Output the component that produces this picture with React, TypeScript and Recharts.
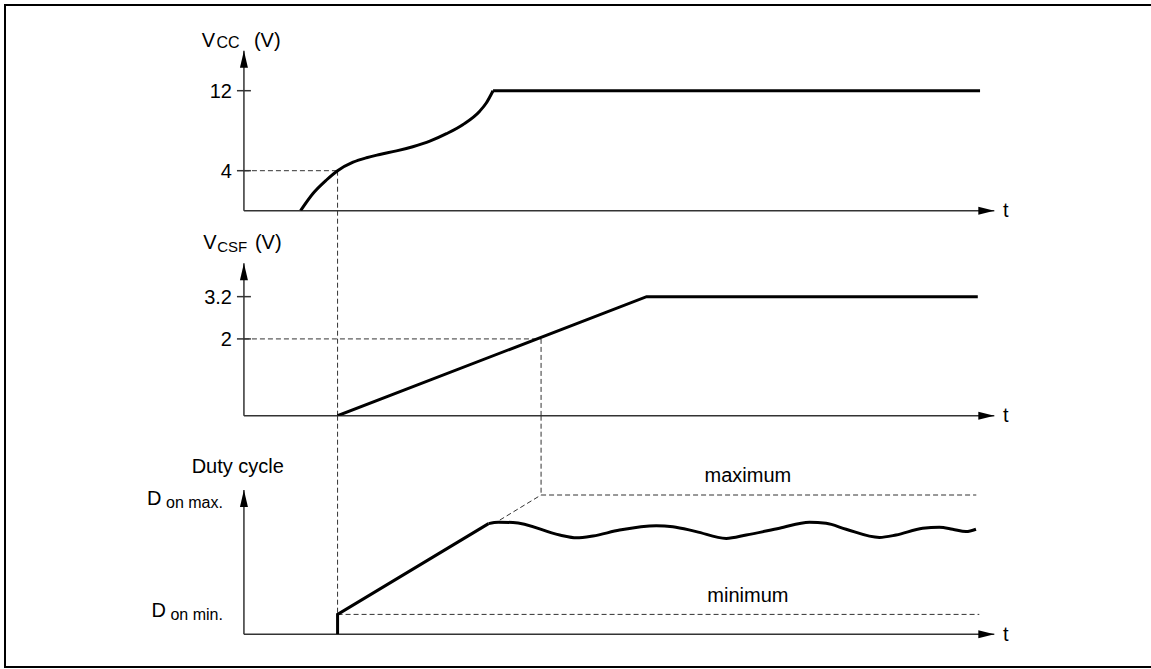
import { LineChart, Line, XAxis, YAxis, ReferenceLine, ReferenceDot, Label } from "recharts";

const W = 1151;
const H = 669;
const LEFT = 183.9;
const RIGHT = 156.7;
const T_RANGE: [number, number] = [-8, 100];

// time markers (t units, 0 = vertical axis, 100 = arrow tip)
const T_ON = 12.48; // Vcc crosses 4 V, soft start begins
const T_2V = 39.6; // Vcsf crosses 2 V

// Vcc (V)
const vccRise = [
  { t: 7.55, v: 0 },
  { t: 9.23, v: 1.74 },
  { t: 11.0, v: 3.07 },
  { t: 12.48, v: 4 },
  { t: 14.55, v: 4.85 },
  { t: 16.34, v: 5.3 },
  { t: 18.1, v: 5.62 },
  { t: 20.33, v: 5.98 },
  { t: 22.5, v: 6.4 },
  { t: 24.77, v: 6.95 },
  { t: 26.99, v: 7.7 },
  { t: 29.16, v: 8.6 },
  { t: 31.42, v: 9.95 },
  { t: 32.32, v: 10.8 },
  { t: 33.2, v: 12 },
];
const vccHold = [
  { t: 33.2, v: 12 },
  { t: 98.1, v: 12 },
];
const vccTicks = [4, 12];

// Vcsf (V)
const vcsfLine = [
  { t: 12.48, v: -0.18 },
  { t: 53.66, v: 3.2 },
  { t: 97.8, v: 3.2 },
];
const vcsfTicks = [2, 3.2];

// duty cycle (%)
const D_MIN = 10;
const D_MAX = 70;
const dutyRamp = [
  { t: 12.48, v: 0 },
  { t: 12.48, v: 10 },
  { t: 32.6, v: 55.6 },
];
const dutyWave = [
  { t: 32.6, v: 55.6 },
  { t: 33.9, v: 56.3 },
  { t: 35.86, v: 56.2 },
  { t: 42.08, v: 49.9 },
  { t: 44.3, v: 48.5 },
  { t: 46.51, v: 49.4 },
  { t: 50.07, v: 52.4 },
  { t: 54.95, v: 54.6 },
  { t: 57.16, v: 54.1 },
  { t: 60.28, v: 51.6 },
  { t: 64.27, v: 48.2 },
  { t: 66.94, v: 49.9 },
  { t: 71.37, v: 53.3 },
  { t: 75.37, v: 56.3 },
  { t: 77.59, v: 55.8 },
  { t: 80.25, v: 52.8 },
  { t: 84.69, v: 48.7 },
  { t: 86.91, v: 49.9 },
  { t: 90.45, v: 53.3 },
  { t: 92.68, v: 53.8 },
  { t: 94.45, v: 52.8 },
  { t: 96.23, v: 51.6 },
  { t: 97.56, v: 52.8 },
];

const AXIS = "#333";
const FONT = 20;
const SUB = 16;
const dash = { stroke: "#333", strokeWidth: 1, strokeDasharray: "5 3", ifOverflow: "visible" as const };

const rightHead = (p: any) => (
  <g>
    <polygon points={`${p.cx},${p.cy} ${p.cx - 16},${p.cy - 4} ${p.cx - 16},${p.cy + 4}`} fill="#000" />
    <text x={p.cx + 8.7} y={p.cy + 6.6} fontSize={FONT} fill="#000">
      t
    </text>
  </g>
);

const upHead = (title: (x: number, y: number) => any) => (p: any) => (
  <g>
    <polygon points={`${p.cx},${p.cy} ${p.cx - 4},${p.cy + 17} ${p.cx + 4},${p.cy + 17}`} fill="#000" />
    {title(p.cx, p.cy)}
  </g>
);

const vccTitle = (x: number, y: number) => (
  <text fontSize={FONT} fill="#000">
    <tspan x={x - 42.3} y={y - 4}>V</tspan>
    <tspan x={x - 27.5} y={y - 2.4} fontSize={SUB}>CC</tspan>
    <tspan x={x + 10} y={y - 4}>(V)</tspan>
  </text>
);

const vcsfTitle = (x: number, y: number) => (
  <text fontSize={FONT} fill="#000">
    <tspan x={x - 40.7} y={y - 14}>V</tspan>
    <tspan x={x - 26.7} y={y - 11.6} fontSize={SUB - 1}>CSF</tspan>
    <tspan x={x + 11} y={y - 14}>(V)</tspan>
  </text>
);

const dutyTitle = (x: number, y: number) => (
  <text x={x - 52.3} y={y - 16.7} fontSize={FONT} fill="#000">
    Duty cycle
  </text>
);

const dLabel = (sub: string, dy: number) => (p: any) => (
  <text x={p.cx - 21} y={p.cy + dy} textAnchor="end" fontSize={FONT} fill="#000">
    D<tspan fontSize={16} dy={3}> {sub}</tspan>
  </text>
);

const centerText = (text: string, dy: number) => (p: any) => (
  <text x={p.cx} y={p.cy + dy} textAnchor="middle" fontSize={FONT} fill="#000">
    {text}
  </text>
);

function axes(base: number, tip: number, title: (x: number, y: number) => any) {
  return [
    <ReferenceLine key="ya" segment={[{ x: 0, y: base }, { x: 0, y: tip }]} stroke={AXIS} strokeWidth={1.5} ifOverflow="visible" />,
    <ReferenceLine key="xa" segment={[{ x: 0, y: base }, { x: 100, y: base }]} stroke={AXIS} strokeWidth={1.5} ifOverflow="visible" />,
    <ReferenceDot key="yh" x={0} y={tip} shape={upHead(title)} ifOverflow="visible" />,
    <ReferenceDot key="xh" x={100} y={base} shape={rightHead} ifOverflow="visible" />,
  ];
}

function ticks(values: number[]) {
  return values.map((v) => (
    <ReferenceLine
      key={`tk${v}`}
      segment={[{ x: -0.93, y: v }, { x: 0.93, y: v }]}
      stroke={AXIS}
      strokeWidth={1.5}
      ifOverflow="visible"
    >
      <Label value={String(v)} position="left" offset={5} fontSize={FONT} fill="#000" />
    </ReferenceLine>
  ));
}

function Panel({ top, base, domain, children }: { top: number; base: number; domain: [number, number]; children: any }) {
  return (
    <div style={{ position: "absolute", left: 0, top: 0 }}>
      <LineChart width={W} height={H} margin={{ top, bottom: H - base, left: LEFT, right: RIGHT }}>
        <XAxis type="number" dataKey="t" domain={T_RANGE} hide allowDataOverflow />
        <YAxis type="number" dataKey="v" domain={domain} hide allowDataOverflow />
        {children}
      </LineChart>
    </div>
  );
}

const lineProps = {
  dataKey: "v",
  stroke: "#000",
  strokeWidth: 3,
  dot: false,
  activeDot: false,
  isAnimationActive: false,
};

export default function App() {
  return (
    <div
      style={{
        position: "absolute",
        left: 0,
        top: 0,
        width: W,
        height: H,
        overflow: "hidden",
        background: "#fff",
        fontFamily: '"Liberation Sans", Arial, Helvetica, sans-serif',
      }}
    >
      <div
        style={{
          position: "absolute",
          left: 4,
          top: 4,
          width: 1200,
          height: 664,
          boxSizing: "border-box",
          border: "2px solid #000",
        }}
      />

      <Panel top={50.7} base={210.7} domain={[0, 16]}>
        {axes(0, 16, vccTitle)}
        {ticks(vccTicks)}
        <ReferenceLine segment={[{ x: 0, y: 4 }, { x: T_ON, y: 4 }]} {...dash} />
        <ReferenceLine segment={[{ x: T_ON, y: 4 }, { x: T_ON, y: 0 }]} {...dash} />
        <Line {...lineProps} data={vccRise} type="monotone" />
        <Line {...lineProps} data={vccHold} type="linear" />
      </Panel>

      <Panel top={210.7} base={415.7} domain={[-0.18, 5.64]}>
        {axes(-0.18, 4.15, vcsfTitle)}
        {ticks(vcsfTicks)}
        <ReferenceLine segment={[{ x: 0, y: 2 }, { x: T_2V, y: 2 }]} {...dash} />
        <ReferenceLine segment={[{ x: T_ON, y: 5.64 }, { x: T_ON, y: -0.18 }]} {...dash} />
        <ReferenceLine segment={[{ x: T_2V, y: 2 }, { x: T_2V, y: -0.18 }]} {...dash} />
        <Line {...lineProps} data={vcsfLine} type="linear" />
      </Panel>

      <Panel top={415.7} base={634.3} domain={[0, 109.85]}>
        {axes(0, 72.5, dutyTitle)}
        <ReferenceLine segment={[{ x: T_ON, y: 109.85 }, { x: T_ON, y: D_MIN }]} {...dash} />
        <ReferenceLine segment={[{ x: T_2V, y: 109.85 }, { x: T_2V, y: D_MAX }]} {...dash} />
        <ReferenceLine segment={[{ x: 34.1, y: 57.4 }, { x: T_2V, y: D_MAX }]} {...dash} />
        <ReferenceLine segment={[{ x: T_2V, y: D_MAX }, { x: 97.6, y: D_MAX }]} {...dash} />
        <ReferenceLine segment={[{ x: T_ON, y: D_MIN }, { x: 98.0, y: D_MIN }]} {...dash} />
        <ReferenceDot x={67.16} y={D_MAX} shape={centerText("maximum", -13)} ifOverflow="visible" />
        <ReferenceDot x={67.16} y={D_MIN} shape={centerText("minimum", -12.4)} ifOverflow="visible" />
        <ReferenceDot x={0} y={D_MAX} shape={dLabel("on max.", 10)} ifOverflow="visible" />
        <ReferenceDot x={0} y={D_MIN} shape={dLabel("on min.", 2.3)} ifOverflow="visible" />
        <Line {...lineProps} data={dutyRamp} type="linear" />
        <Line {...lineProps} data={dutyWave} type="monotone" />
      </Panel>
    </div>
  );
}
